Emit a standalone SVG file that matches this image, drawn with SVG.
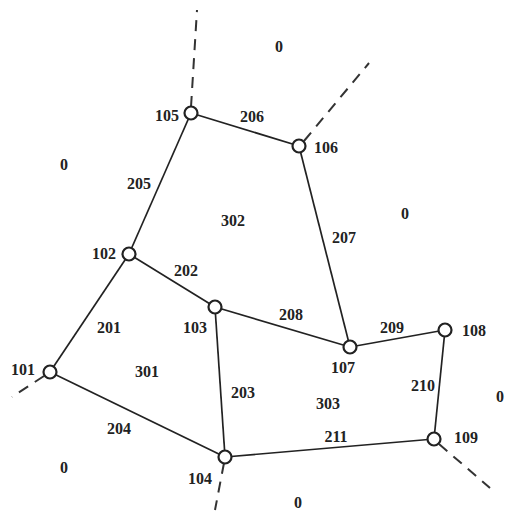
<svg xmlns="http://www.w3.org/2000/svg" width="507" height="514" viewBox="0 0 507 514">
<style>
.e{stroke:#222;stroke-width:1.7;fill:none}
.d{stroke:#333;stroke-width:2;fill:none;stroke-dasharray:11,8}
.n circle{fill:#fff;stroke:#222;stroke-width:2.2}
text{font-family:"Liberation Serif","Times New Roman",serif;font-size:16px;font-weight:bold;fill:#222;text-anchor:middle;dominant-baseline:central}
</style>
<rect width="507" height="514" fill="#fff"/>
<g id="connectors">
<line class="d" x1="191" y1="107" x2="197" y2="10"/>
<line class="d" x1="304" y1="141" x2="369" y2="63"/>
<line class="d" x1="44" y1="376" x2="12" y2="397"/>
<line class="d" x1="224" y1="463" x2="215" y2="510"/>
<line class="d" x1="439" y1="444" x2="490" y2="488"/>
<line class="e" x1="191" y1="113" x2="299" y2="146"/>
<line class="e" x1="191" y1="113" x2="129" y2="254"/>
<line class="e" x1="299" y1="146" x2="350" y2="347"/>
<line class="e" x1="129" y1="254" x2="215" y2="307"/>
<line class="e" x1="129" y1="254" x2="50" y2="372"/>
<line class="e" x1="215" y1="307" x2="350" y2="347"/>
<line class="e" x1="215" y1="307" x2="225" y2="457"/>
<line class="e" x1="50" y1="372" x2="225" y2="457"/>
<line class="e" x1="350" y1="347" x2="445" y2="330"/>
<line class="e" x1="445" y1="330" x2="434" y2="439"/>
<line class="e" x1="225" y1="457" x2="434" y2="439"/>
<text x="252" y="116">206</text>
<text x="139" y="183">205</text>
<text x="344" y="237">207</text>
<text x="186" y="270">202</text>
<text x="109" y="327">201</text>
<text x="291" y="314">208</text>
<text x="392" y="327">209</text>
<text x="243" y="392">203</text>
<text x="423" y="385">210</text>
<text x="119" y="428">204</text>
<text x="336" y="436">211</text>
</g>
<g id="regions">
<text x="279" y="46">0</text>
<text x="64" y="164">0</text>
<text x="405" y="213">0</text>
<text x="233" y="220">302</text>
<text x="147" y="371">301</text>
<text x="328" y="403">303</text>
<text x="500" y="396">0</text>
<text x="64" y="467">0</text>
<text x="298" y="502">0</text>
</g>
<g id="n101" class="n"><circle cx="50" cy="372" r="6.5"/><text x="23" y="369">101</text></g>
<g id="n102" class="n"><circle cx="129" cy="254" r="6.5"/><text x="104" y="253">102</text></g>
<g id="n103" class="n"><circle cx="215" cy="307" r="6.5"/><text x="195" y="327">103</text></g>
<g id="n104" class="n"><circle cx="225" cy="457" r="6.5"/><text x="200" y="478">104</text></g>
<g id="n105" class="n"><circle cx="191" cy="113" r="6.5"/><text x="167" y="115">105</text></g>
<g id="n106" class="n"><circle cx="299" cy="146" r="6.5"/><text x="326" y="147">106</text></g>
<g id="n107" class="n"><circle cx="350" cy="347" r="6.5"/><text x="343" y="367">107</text></g>
<g id="n108" class="n"><circle cx="445" cy="330" r="6.5"/><text x="474" y="330">108</text></g>
<g id="n109" class="n"><circle cx="434" cy="439" r="6.5"/><text x="466" y="437">109</text></g>
</svg>
